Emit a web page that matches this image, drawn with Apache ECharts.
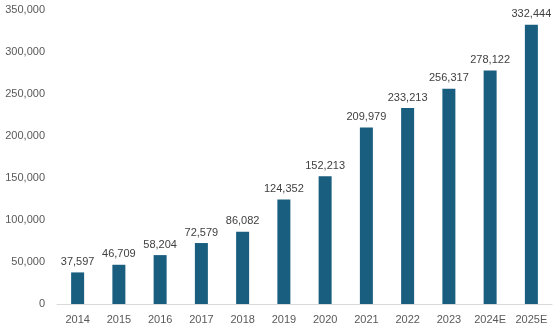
<!DOCTYPE html>
<html><head><meta charset="utf-8">
<script src="https://cdn.jsdelivr.net/npm/echarts@6/dist/echarts.min.js"></script>
<style>html,body{margin:0;padding:0;background:#fff}#c{width:557px;height:327px}</style>
</head><body><div id="c"></div>
<script>
const categories = ["2014","2015","2016","2017","2018","2019","2020","2021","2022","2023","2024E","2025E"];
const values = [37597,46709,58204,72579,86082,124352,152213,209979,233213,256317,278122,332444];
const chart = echarts.init(document.getElementById('c'));
chart.setOption({
  animation:false,
  grid:{left:57,right:5,top:10,bottom:23},
  xAxis:{type:'category',data:categories,
    axisLine:{lineStyle:{color:'#d9d9d9',width:1}},axisTick:{show:false},
    axisLabel:{interval:0,color:'#595959',fontSize:11,fontFamily:'Liberation Sans, Arial',margin:10}},
  yAxis:{type:'value',min:0,max:350000,interval:50000,
    splitLine:{show:false},axisLine:{show:false},axisTick:{show:false},
    axisLabel:{color:'#595959',fontSize:11,fontFamily:'Liberation Sans, Arial',margin:12,
      formatter:v=>v.toLocaleString('en-US')}},
  series:[{type:'bar',data:values,barWidth:13,itemStyle:{color:'#195E7F'},
    label:{show:true,position:'top',distance:5,color:'#404040',fontSize:11,fontFamily:'Liberation Sans, Arial',
      formatter:p=>p.value.toLocaleString('en-US')}}]
});
</script></body></html>
